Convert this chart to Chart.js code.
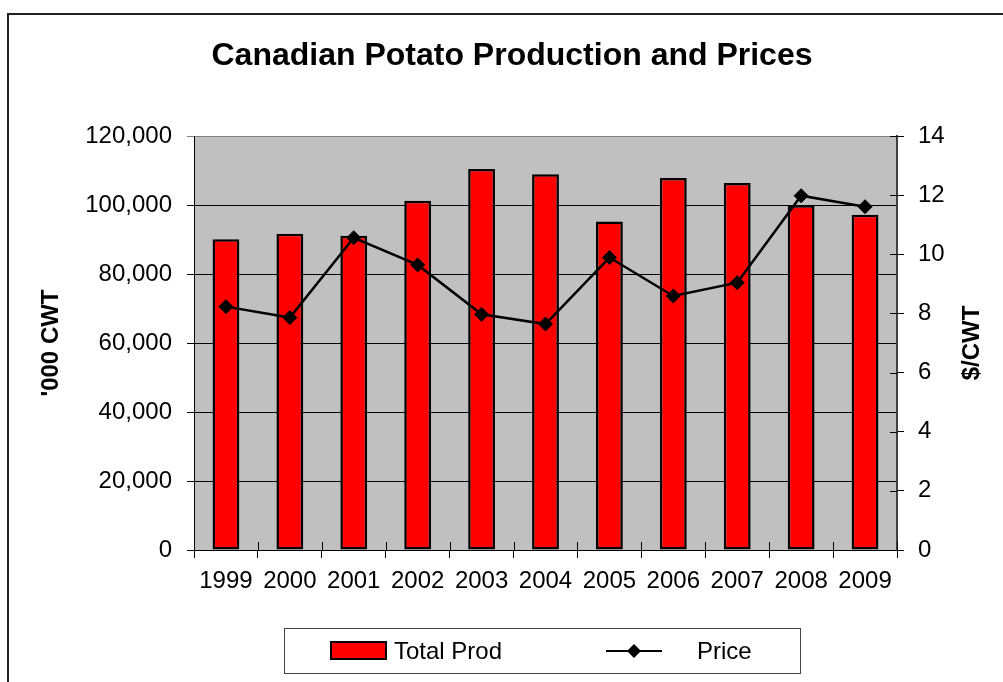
<!DOCTYPE html>
<html>
<head>
<meta charset="utf-8">
<script src="https://cdn.jsdelivr.net/npm/chart.js@4/dist/chart.umd.min.js"></script>
<style>
  html, body { margin: 0; padding: 0; background: #fff; overflow: hidden; }
  #wrap { width: 1003px; height: 682px; position: relative; }
</style>
</head>
<body>
<div id="wrap"><canvas id="potato-chart" width="1003" height="682"></canvas></div>
<script>
// chart data
const years = ['1999', '2000', '2001', '2002', '2003', '2004', '2005', '2006', '2007', '2008', '2009'];
const totalProd = [90100, 91700, 91100, 101200, 110400, 108900, 95200, 107800, 106400, 99900, 97200];
const price = [8.23, 7.86, 10.56, 9.64, 7.97, 7.64, 9.89, 8.59, 9.04, 11.98, 11.61];
const prodTicks = [0, 20000, 40000, 60000, 80000, 100000, 120000];
const priceTicks = [0, 2, 4, 6, 8, 10, 12, 14];

const FONT = '"Liberation Sans", Arial, sans-serif';
Chart.defaults.font.family = FONT;
Chart.defaults.color = '#000';

// background, outer frame, title, right axis title, crossing ticks, legend
const decorations = {
  id: 'decorations',
  beforeDraw(chart) {
    const ctx = chart.ctx;
    const a = chart.chartArea;
    ctx.save();
    ctx.fillStyle = '#fff';
    ctx.fillRect(0, 0, chart.width, chart.height);
    ctx.fillStyle = '#c0c0c0';
    ctx.fillRect(a.left, a.top, a.right - a.left, a.bottom - a.top);
    ctx.strokeStyle = '#222';
    ctx.lineWidth = 2;
    ctx.strokeRect(8, 14, 1200, 900);
    ctx.restore();
  },
  afterDraw(chart) {
    const ctx = chart.ctx;
    const a = chart.chartArea;
    ctx.save();
    // title
    ctx.fillStyle = '#000';
    ctx.font = 'bold 32px ' + FONT;
    ctx.textAlign = 'center';
    ctx.textBaseline = 'alphabetic';
    ctx.fillText('Canadian Potato Production and Prices', 512, 65);

    // right axis title, reads bottom to top like the left one
    ctx.save();
    ctx.translate(972, (a.top + a.bottom) / 2);
    ctx.rotate(-Math.PI / 2);
    ctx.font = 'bold 24px ' + FONT;
    ctx.textBaseline = 'middle';
    ctx.fillText('$/CWT', 0, 0);
    ctx.restore();

    // inner halves of the crossing tick marks
    ctx.strokeStyle = '#000';
    ctx.lineWidth = 1;
    ctx.beginPath();
    for (let i = 0; i <= years.length; i++) {
      const px = Math.round(a.left + i * (a.right - a.left) / years.length) + 0.5;
      ctx.moveTo(px, a.bottom);
      ctx.lineTo(px, a.bottom - 8);
    }
    const y1 = chart.scales.y1;
    priceTicks.forEach(v => {
      const py = Math.round(y1.getPixelForValue(v)) + 0.5;
      ctx.moveTo(a.right, py);
      ctx.lineTo(a.right - 7, py);
    });
    ctx.stroke();

    // legend
    ctx.strokeStyle = '#444';
    ctx.lineWidth = 1;
    ctx.strokeRect(284.5, 628.5, 516, 45);
    ctx.fillStyle = '#ff0000';
    ctx.fillRect(331, 642, 55, 17);
    ctx.strokeStyle = '#000';
    ctx.lineWidth = 2;
    ctx.strokeRect(331, 642, 55, 17);
    ctx.fillStyle = '#000';
    ctx.font = '24px ' + FONT;
    ctx.textAlign = 'left';
    ctx.textBaseline = 'middle';
    ctx.fillText('Total Prod', 394, 652);
    ctx.fillText('Price', 697, 652);
    ctx.beginPath();
    ctx.moveTo(606, 651);
    ctx.lineTo(662, 651);
    ctx.stroke();
    ctx.beginPath();
    ctx.moveTo(634 - 7, 651);
    ctx.lineTo(634, 651 - 7);
    ctx.lineTo(634 + 7, 651);
    ctx.lineTo(634, 651 + 7);
    ctx.closePath();
    ctx.fill();
    ctx.restore();
  }
};

new Chart(document.getElementById('potato-chart'), {
  data: {
    labels: years,
    datasets: [
      {
        type: 'line',
        label: 'Price',
        data: price,
        yAxisID: 'y1',
        borderColor: '#000',
        borderWidth: 2.5,
        pointStyle: 'rectRot',
        pointRadius: 7,
        pointBackgroundColor: '#000',
        pointBorderColor: '#000',
        pointBorderWidth: 1,
        tension: 0,
        order: 0
      },
      {
        type: 'bar',
        label: 'Total Prod',
        data: totalProd,
        yAxisID: 'y',
        backgroundColor: '#ff0000',
        borderColor: '#000',
        borderWidth: 2.5,
        borderSkipped: false,
        categoryPercentage: 1,
        barPercentage: 0.42,
        order: 1
      }
    ]
  },
  options: {
    responsive: false,
    animation: false,
    layout: { padding: { top: 136, left: 0, right: 0, bottom: 0 } },
    plugins: {
      legend: { display: false },
      title: { display: false },
      tooltip: { enabled: false }
    },
    scales: {
      x: {
        offset: true,
        grid: { offset: true, drawOnChartArea: false, tickLength: 8, color: '#000' },
        border: { color: '#000', width: 1 },
        ticks: { font: { size: 24 }, padding: 9, maxRotation: 0, autoSkip: false },
        afterFit(scale) { scale.height = 132; }
      },
      y: {
        position: 'left',
        min: 0,
        max: 120000,
        afterBuildTicks(scale) { scale.ticks = prodTicks.map(v => ({ value: v })); },
        grid: {
          tickLength: 7,
          color: ctx => (ctx.tick && ctx.tick.value === 120000) ? '#808080' : '#000'
        },
        border: { color: '#000', width: 1 },
        ticks: { font: { size: 24 }, padding: 15 },
        title: {
          display: true,
          text: "'000 CWT",
          font: { size: 24, weight: 'bold' },
          padding: { top: 37, bottom: 0 }
        },
        afterFit(scale) { scale.width = 194; }
      },
      y1: {
        position: 'right',
        min: 0,
        max: 14,
        afterBuildTicks(scale) { scale.ticks = priceTicks.map(v => ({ value: v })); },
        grid: { drawOnChartArea: false, tickLength: 7, color: '#000' },
        border: { color: '#404040', width: 2 },
        ticks: { font: { size: 24 }, padding: 14 },
        afterFit(scale) { scale.width = 106; }
      }
    }
  },
  plugins: [decorations]
});
</script>
</body>
</html>
